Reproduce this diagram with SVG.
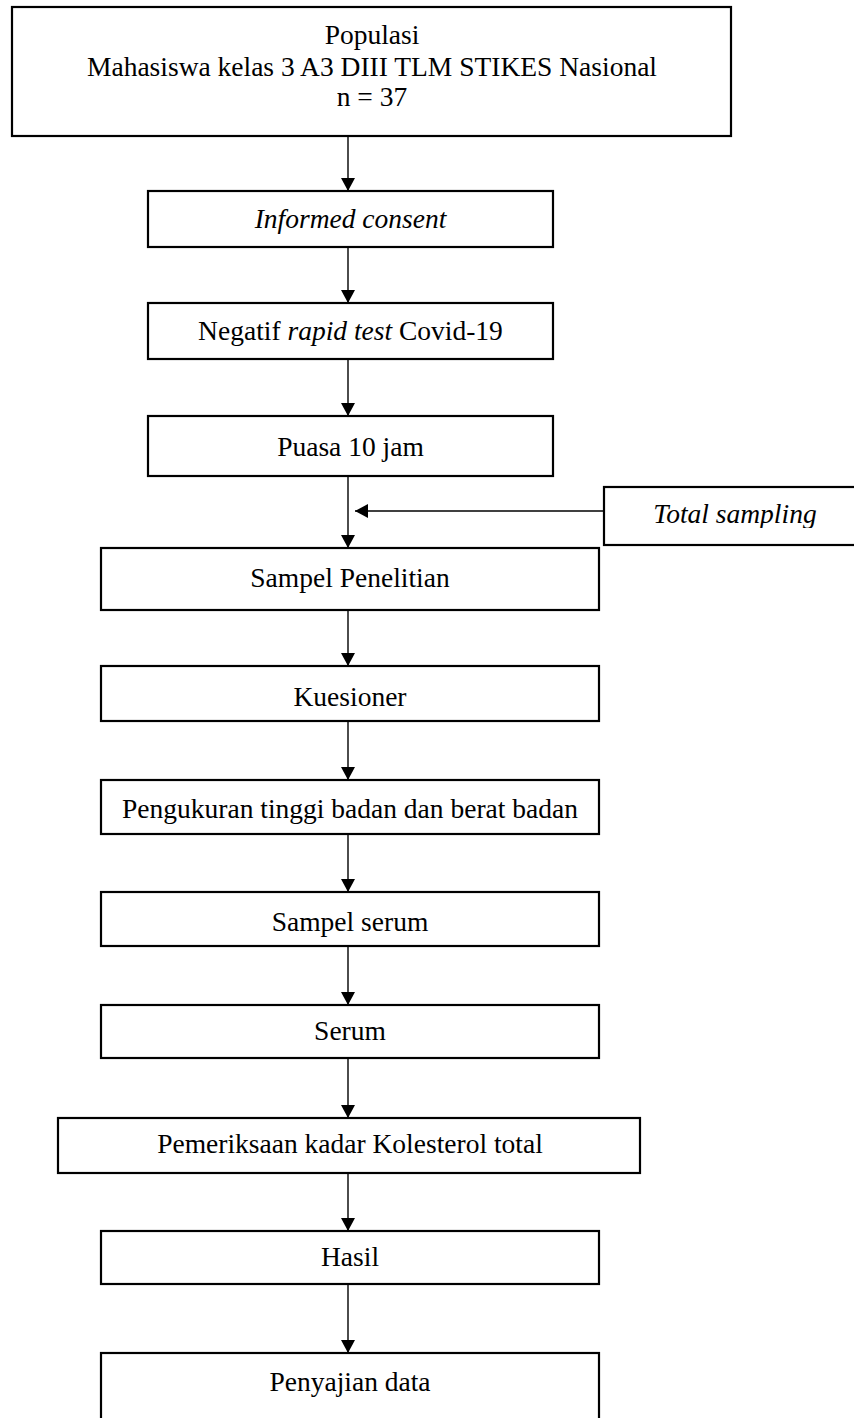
<svg xmlns="http://www.w3.org/2000/svg" width="854" height="1418" viewBox="0 0 854 1418">
<style>
.box{fill:#fff;stroke:#000;stroke-width:2.2}
.t{font-family:"Liberation Serif","Times New Roman",serif;font-size:27.5px;fill:#000;text-anchor:middle}
.i{font-style:italic}
.c{stroke:#000;stroke-width:1.4;fill:none}
</style>
<defs>
<marker id="ah" viewBox="0 0 13 14" refX="13" refY="7" markerWidth="13" markerHeight="14" markerUnits="userSpaceOnUse" orient="auto">
<path d="M0,0 L13,7 L0,14 Z" fill="#000"/>
</marker>
<clipPath id="tsclip"><rect x="604" y="487" width="250" height="41"/></clipPath>
</defs>
<rect width="854" height="1418" fill="#fff"/>
<g id="connectors">
<line class="c" x1="348" y1="136" x2="348" y2="191" marker-end="url(#ah)"/>
<line class="c" x1="348" y1="247" x2="348" y2="303" marker-end="url(#ah)"/>
<line class="c" x1="348" y1="359" x2="348" y2="416" marker-end="url(#ah)"/>
<line class="c" x1="348" y1="476" x2="348" y2="548" marker-end="url(#ah)"/>
<line class="c" x1="604" y1="511" x2="355" y2="511" marker-end="url(#ah)"/>
<line class="c" x1="348" y1="610" x2="348" y2="666" marker-end="url(#ah)"/>
<line class="c" x1="348" y1="721" x2="348" y2="780" marker-end="url(#ah)"/>
<line class="c" x1="348" y1="834" x2="348" y2="892" marker-end="url(#ah)"/>
<line class="c" x1="348" y1="946" x2="348" y2="1005" marker-end="url(#ah)"/>
<line class="c" x1="348" y1="1058" x2="348" y2="1118" marker-end="url(#ah)"/>
<line class="c" x1="348" y1="1173" x2="348" y2="1231" marker-end="url(#ah)"/>
<line class="c" x1="348" y1="1284" x2="348" y2="1353" marker-end="url(#ah)"/>
</g>
<g id="populasi">
<rect class="box" x="12" y="7" width="719" height="129"/>
<text class="t" x="372" y="44">Populasi</text>
<text class="t" x="372" y="76">Mahasiswa kelas 3 A3 DIII TLM STIKES Nasional</text>
<text class="t" x="372" y="106">n = 37</text>
</g>
<g id="informed">
<rect class="box" x="148" y="191" width="405" height="56"/>
<text class="t i" x="350.5" y="228">Informed consent</text>
</g>
<g id="negatif">
<rect class="box" x="148" y="303" width="405" height="56"/>
<text class="t" x="350.5" y="340">Negatif <tspan class="i">rapid test</tspan> Covid-19</text>
</g>
<g id="puasa">
<rect class="box" x="148" y="416" width="405" height="60"/>
<text class="t" x="350.5" y="456">Puasa 10 jam</text>
</g>
<g id="total">
<rect class="box" x="604" y="487" width="260" height="58"/>
<text class="t i" x="735" y="523" clip-path="url(#tsclip)">Total sampling</text>
</g>
<g id="sampel">
<rect class="box" x="101" y="548" width="498" height="62"/>
<text class="t" x="350" y="587">Sampel Penelitian</text>
</g>
<g id="kuesioner">
<rect class="box" x="101" y="666" width="498" height="55"/>
<text class="t" x="350" y="706">Kuesioner</text>
</g>
<g id="pengukuran">
<rect class="box" x="101" y="780" width="498" height="54"/>
<text class="t" x="350" y="818">Pengukuran tinggi badan dan berat badan</text>
</g>
<g id="sampelserum">
<rect class="box" x="101" y="892" width="498" height="54"/>
<text class="t" x="350" y="931">Sampel serum</text>
</g>
<g id="serum">
<rect class="box" x="101" y="1005" width="498" height="53"/>
<text class="t" x="350" y="1040">Serum</text>
</g>
<g id="pemeriksaan">
<rect class="box" x="58" y="1118" width="582" height="55"/>
<text class="t" x="350" y="1153">Pemeriksaan kadar Kolesterol total</text>
</g>
<g id="hasil">
<rect class="box" x="101" y="1231" width="498" height="53"/>
<text class="t" x="350" y="1266">Hasil</text>
</g>
<g id="penyajian">
<rect class="box" x="101" y="1353" width="498" height="80"/>
<text class="t" x="350" y="1391">Penyajian data</text>
</g>
</svg>
